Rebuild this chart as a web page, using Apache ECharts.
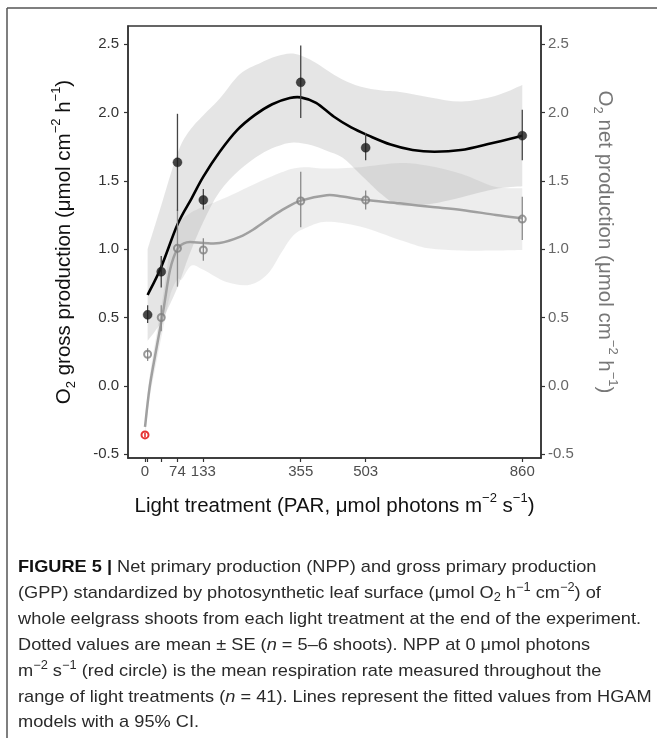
<!DOCTYPE html>
<html>
<head>
<meta charset="utf-8">
<script src="https://cdn.jsdelivr.net/npm/echarts@6/dist/echarts.min.js"></script>
<style>
html,body{margin:0;padding:0;background:#fff;}
#chart{width:657px;height:738px;}
</style>
</head>
<body>
<div id="chart"></div>
<script>
// ---------- data ----------
const xTickValues = [0, 6, 37, 74, 133, 355, 503, 860];
const xTickLabels = [0, 74, 133, 355, 503, 860];
const yTickValues = [-0.5, 0, 0.5, 1, 1.5, 2, 2.5];

const treatX = [6, 37, 74, 133, 355, 503, 860];
const gppMean = [0.52, 0.835, 1.635, 1.36, 2.22, 1.742, 1.83];
const gppLo   = [0.46, 0.72, 1.28, 1.29, 1.96, 1.65, 1.65];
const gppHi   = [0.59, 0.95, 1.99, 1.44, 2.49, 1.85, 2.02];

const nppMean = [0.232, 0.50, 1.006, 0.994, 1.352, 1.36, 1.22];
const nppLo   = [0.183, 0.40, 0.726, 0.915, 1.16, 1.29, 1.067];
const nppHi   = [0.276, 0.59, 1.29, 1.08, 1.567, 1.43, 1.384];

const respX = [0];
const respMean = [-0.358];
const respLo = [-0.375];
const respHi = [-0.342];

const gppFitX = [6, 37, 74, 106, 133, 170, 210, 250, 290, 330, 355, 390, 430, 470, 510, 560, 610, 660, 720, 790, 860];
const gppFitY = [0.665, 0.87, 1.18, 1.37, 1.53, 1.71, 1.87, 1.98, 2.06, 2.105, 2.11, 2.07, 1.97, 1.89, 1.83, 1.765, 1.725, 1.712, 1.725, 1.775, 1.83];

const nppFitX = [0, 11, 27, 42, 57, 74, 95, 133, 170, 216, 250, 290, 320, 355, 414, 450, 503, 581, 650, 722, 800, 860];
const nppFitY = [-0.30, 0.0, 0.29, 0.556, 0.848, 1.0, 1.05, 1.045, 1.045, 1.09, 1.15, 1.24, 1.30, 1.355, 1.395, 1.385, 1.36, 1.335, 1.31, 1.287, 1.25, 1.226];

const gppBandX  = [6, 37, 74, 100, 133, 170, 216, 262, 300, 338, 380, 414, 450, 490, 540, 581, 650, 722, 798, 860];
const gppBandLo = [0.33, 0.47, 0.72, 0.95, 1.20, 1.42, 1.58, 1.69, 1.75, 1.78, 1.76, 1.72, 1.67, 1.55, 1.40, 1.32, 1.33, 1.38, 1.44, 1.46];
const gppBandHi = [1.00, 1.32, 1.70, 1.86, 1.98, 2.10, 2.28, 2.36, 2.41, 2.43, 2.38, 2.31, 2.24, 2.19, 2.16, 2.15, 2.11, 2.08, 2.12, 2.20];

const nppBandX  = [0, 11, 27, 42, 57, 74, 84, 106, 133, 186, 239, 280, 310, 338, 370, 414, 490, 581, 646, 722, 798, 860];
const nppBandLo = [-0.36, -0.08, 0.19, 0.43, 0.66, 0.78, 0.78, 0.88, 0.85, 0.76, 0.74, 0.82, 0.97, 1.10, 1.16, 1.20, 1.165, 1.067, 1.006, 0.99, 0.99, 0.994];
const nppBandHi = [-0.24, 0.08, 0.39, 0.68, 1.00, 1.18, 1.22, 1.27, 1.31, 1.38, 1.46, 1.52, 1.56, 1.59, 1.60, 1.59, 1.60, 1.63, 1.61, 1.55, 1.457, 1.445];

const captionLines = [
  '{b|FIGURE 5 |}{n| Net primary production (NPP) and gross primary production}',
  '{n|(GPP) standardized by photosynthetic leaf surface (μmol O}{sub|2}{n| h}{sup|−1}{n| cm}{sup|−2}{n|) of}',
  '{n|whole eelgrass shoots from each light treatment at the end of the experiment.}',
  '{n|Dotted values are mean ± SE (}{i|n}{n| = 5–6 shoots). NPP at 0 μmol photons}',
  '{n|m}{sup|−2}{n| s}{sup|−1}{n| (red circle) is the mean respiration rate measured throughout the}',
  '{n|range of light treatments (}{i|n}{n| = 41). Lines represent the fitted values from HGAM}',
  '{n|models with a 95% CI.}'
];

// ---------- helpers ----------
const FONT = '"Liberation Sans", Arial, Helvetica, sans-serif';
const zip = (xs, ys) => xs.map((x, i) => [x, ys[i]]);
const bars = (xs, lo, hi) => xs.map((x, i) => [x, lo[i], hi[i]]);

// Catmull-Rom -> cubic bezier path through pixel points
function smoothSeg(pts, start) {
  let d = (start ? 'M' : 'L') + pts[0][0] + ',' + pts[0][1];
  const n = pts.length;
  for (let i = 0; i < n - 1; i++) {
    const p0 = pts[Math.max(i - 1, 0)], p1 = pts[i], p2 = pts[i + 1], p3 = pts[Math.min(i + 2, n - 1)];
    const c1x = p1[0] + (p2[0] - p0[0]) / 6, c1y = p1[1] + (p2[1] - p0[1]) / 6;
    const c2x = p2[0] - (p3[0] - p1[0]) / 6, c2y = p2[1] - (p3[1] - p1[1]) / 6;
    d += 'C' + c1x + ',' + c1y + ',' + c2x + ',' + c2y + ',' + p2[0] + ',' + p2[1];
  }
  return d;
}

function bandSeries(xs, lo, hi, color) {
  return {
    type: 'custom', z: 1, silent: true, clip: true,
    data: [[xs[0], lo[0]]],
    renderItem: function (params, api) {
      const up = xs.map((x, i) => api.coord([x, hi[i]]));
      const dn = xs.map((x, i) => api.coord([x, lo[i]])).reverse();
      const d = smoothSeg(up, true) + smoothSeg(dn, false) + 'Z';
      return { type: 'path', shape: { pathData: d }, style: { fill: color, stroke: null } };
    }
  };
}

function fitSeries(xs, ys, color, width) {
  return {
    type: 'custom', z: 2, silent: true, clip: true,
    data: [[xs[0], ys[0]]],
    renderItem: function (params, api) {
      const pts = xs.map((x, i) => api.coord([x, ys[i]]));
      return { type: 'path', shape: { pathData: smoothSeg(pts, true) },
               style: { fill: null, stroke: color, lineWidth: width, lineJoin: 'round', lineCap: 'butt' } };
    }
  };
}

function errorBarSeries(data, color, width) {
  return {
    type: 'custom', z: 3, silent: true,
    data: data,
    renderItem: function (params, api) {
      const x = api.value(0);
      const p1 = api.coord([x, api.value(1)]);
      const p2 = api.coord([x, api.value(2)]);
      return { type: 'line', shape: { x1: p1[0], y1: p1[1], x2: p2[0], y2: p2[1] },
               style: { stroke: color, lineWidth: width } };
    }
  };
}

function titleRich(color) {
  return {
    n: { fontSize: 20.5, lineHeight: 28, fontFamily: FONT, color: color },
    sup: { fontSize: 13, lineHeight: 28, verticalAlign: 'top', fontFamily: FONT, color: color },
    sub: { fontSize: 13, lineHeight: 28, verticalAlign: 'bottom', fontFamily: FONT, color: color }
  };
}

// caption scale so that the reference line width is matched
const measureCtx = document.createElement('canvas').getContext('2d');
measureCtx.font = '17px ' + FONT;
const refW = measureCtx.measureText('whole eelgrass shoots from each light treatment at the end of the experiment.').width;
const capScale = 623 / refW;

const capRich = {
  n: { fontSize: 17, fontFamily: FONT, fill: '#2a2a2a' },
  i: { fontSize: 17, fontFamily: FONT, fill: '#2a2a2a', fontStyle: 'italic' },
  b: { fontSize: 17, fontFamily: FONT, fill: '#111', fontWeight: 'bold' },
  sup: { fontSize: 12, fontFamily: FONT, fill: '#2a2a2a', verticalAlign: 'top', lineHeight: 22 },
  sub: { fontSize: 12, fontFamily: FONT, fill: '#2a2a2a', verticalAlign: 'bottom', lineHeight: 22 }
};
const capY = [567, 593, 619, 645, 671, 697, 722];

const graphics = [
  { type: 'line', shape: { x1: 7, y1: 8, x2: 657, y2: 8 }, style: { stroke: '#555', lineWidth: 1.5 } },
  { type: 'line', shape: { x1: 7, y1: 8, x2: 7, y2: 738 }, style: { stroke: '#555', lineWidth: 1.5 } }
];
captionLines.forEach((t, i) => {
  graphics.push({
    type: 'text', x: 18, y: capY[i], scaleX: capScale, scaleY: 1,
    style: { text: t, rich: capRich, verticalAlign: 'middle', align: 'left', fontSize: 17, fontFamily: FONT }
  });
});

const chart = echarts.init(document.getElementById('chart'), null, { renderer: 'canvas' });

const option = {
  animation: false,
  backgroundColor: '#fff',
  grid: { left: 128, right: 116, top: 26, bottom: 280, show: true, borderColor: '#333', borderWidth: 1.5, backgroundColor: 'transparent' },
  xAxis: {
    type: 'value', min: -38.75, max: 902.7,
    name: '{n|Light treatment (PAR, μmol photons m}{sup|−2}{n| s}{sup|−1}{n|)}',
    nameLocation: 'middle', nameGap: 34,
    nameTextStyle: { color: '#111', rich: titleRich('#111') },
    splitLine: { show: false },
    axisLine: { show: true, onZero: false, lineStyle: { color: '#333', width: 1.5 } },
    axisTick: { show: true, length: 4, customValues: xTickValues, lineStyle: { color: '#333', width: 1.2 } },
    axisLabel: { customValues: xTickLabels, fontSize: 15, color: '#4d4d4d', margin: 6, fontFamily: FONT }
  },
  yAxis: [
    {
      type: 'value', min: -0.527, max: 2.632, position: 'left',
      name: '{n|O}{sub|2}{n| gross production (μmol cm}{sup|−2}{n| h}{sup|−1}{n|)}',
      nameLocation: 'middle', nameGap: 50, nameRotate: 90,
      nameTextStyle: { color: '#111', rich: titleRich('#111') },
      splitLine: { show: false },
      axisLine: { show: true, onZero: false, lineStyle: { color: '#333', width: 1.5 } },
      axisTick: { show: true, length: 4, customValues: yTickValues, lineStyle: { color: '#333', width: 1.2 } },
      axisLabel: { customValues: yTickValues, fontSize: 15, color: '#333', margin: 9, fontFamily: FONT,
                   formatter: v => v.toFixed(1) }
    },
    {
      type: 'value', min: -0.527, max: 2.632, position: 'right',
      name: '{n|O}{sub|2}{n| net production (μmol cm}{sup|−2}{n| h}{sup|−1}{n|)}',
      nameLocation: 'middle', nameGap: 50, nameRotate: -90,
      nameTextStyle: { color: '#777', rich: titleRich('#777') },
      splitLine: { show: false },
      axisLine: { show: true, onZero: false, lineStyle: { color: '#333', width: 1.5 } },
      axisTick: { show: true, length: 4, customValues: yTickValues, lineStyle: { color: '#333', width: 1.2 } },
      axisLabel: { customValues: yTickValues, fontSize: 15, color: '#666', margin: 7, fontFamily: FONT,
                   formatter: v => v.toFixed(1) }
    }
  ],
  series: [
    bandSeries(nppBandX, nppBandLo, nppBandHi, 'rgba(150,150,150,0.17)'),
    bandSeries(gppBandX, gppBandLo, gppBandHi, 'rgba(150,150,150,0.25)'),
    fitSeries(nppFitX, nppFitY, '#a0a0a0', 2.5),
    fitSeries(gppFitX, gppFitY, '#000', 2.6),
    errorBarSeries(bars(treatX, nppLo, nppHi), '#8a8a8a', 1.3),
    errorBarSeries(bars(treatX, gppLo, gppHi), '#444', 1.3),
    errorBarSeries(bars(respX, respLo, respHi), '#e00000', 1.3),
    { type: 'scatter', data: zip(treatX, nppMean), symbol: 'circle', symbolSize: 7, z: 4,
      itemStyle: { color: 'rgba(255,255,255,0)', borderColor: '#808080', borderWidth: 2 } },
    { type: 'scatter', data: zip(treatX, gppMean), symbol: 'circle', symbolSize: 9, z: 4,
      itemStyle: { color: '#1a1a1a', borderColor: '#1a1a1a', borderWidth: 0.5 } },
    { type: 'scatter', data: zip(respX, respMean), symbol: 'circle', symbolSize: 7, z: 4,
      itemStyle: { color: 'rgba(255,255,255,0)', borderColor: '#e00000', borderWidth: 2 } }
  ],
  graphic: graphics
};

chart.setOption(option);
</script>
</body>
</html>
